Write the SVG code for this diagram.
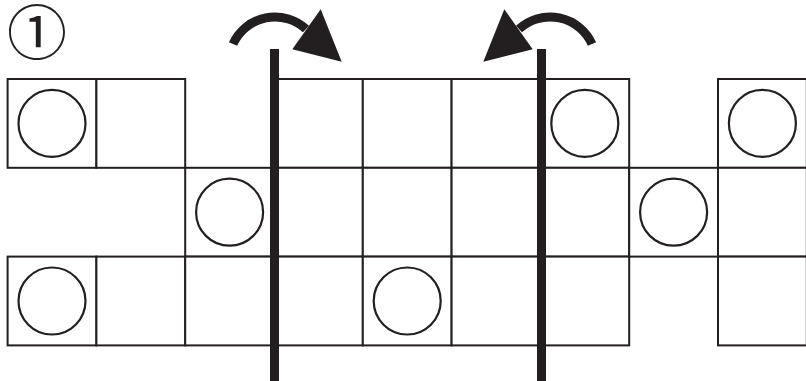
<svg xmlns="http://www.w3.org/2000/svg" width="806" height="381" viewBox="0 0 806 381">
<style>
.cell{fill:#fff;stroke:#231f20;stroke-width:2}
.dot{fill:none;stroke:#231f20;stroke-width:2.2}
.bar{fill:#231f20}
.arc{fill:none;stroke:#231f20;stroke-width:9}
.head{fill:#231f20}
.num{font-family:"Noto Sans CJK JP","DejaVu Sans",sans-serif;font-size:60px;fill:#231f20}
</style>
<defs>
<g id="arrow">
<path class="arc" d="M 233 44 A 46 46 0 0 1 306 29"/>
<polygon class="head" points="320.7,9.3 341.7,61.7 292.3,49.3"/>
</g>
</defs>
<rect width="806" height="381" fill="#fff"/>
<text class="num" x="37" y="55" text-anchor="middle">①</text>
<g id="grid">
<g id="r0">
<rect class="cell" x="7.6" y="79" width="88.8" height="88.8"/>
<rect class="cell" x="96.4" y="79" width="88.8" height="88.8"/>
<rect class="cell" x="274" y="79" width="88.8" height="88.8"/>
<rect class="cell" x="362.8" y="79" width="88.8" height="88.8"/>
<rect class="cell" x="451.6" y="79" width="88.8" height="88.8"/>
<rect class="cell" x="540.4" y="79" width="88.8" height="88.8"/>
<rect class="cell" x="718" y="79" width="88.8" height="88.8"/>
</g>
<g id="r1">
<rect class="cell" x="185.2" y="167.8" width="88.8" height="88.8"/>
<rect class="cell" x="274" y="167.8" width="88.8" height="88.8"/>
<rect class="cell" x="362.8" y="167.8" width="88.8" height="88.8"/>
<rect class="cell" x="451.6" y="167.8" width="88.8" height="88.8"/>
<rect class="cell" x="540.4" y="167.8" width="88.8" height="88.8"/>
<rect class="cell" x="629.2" y="167.8" width="88.8" height="88.8"/>
<rect class="cell" x="718" y="167.8" width="88.8" height="88.8"/>
</g>
<g id="r2">
<rect class="cell" x="7.6" y="256.6" width="88.8" height="88.8"/>
<rect class="cell" x="96.4" y="256.6" width="88.8" height="88.8"/>
<rect class="cell" x="185.2" y="256.6" width="88.8" height="88.8"/>
<rect class="cell" x="274" y="256.6" width="88.8" height="88.8"/>
<rect class="cell" x="362.8" y="256.6" width="88.8" height="88.8"/>
<rect class="cell" x="451.6" y="256.6" width="88.8" height="88.8"/>
<rect class="cell" x="540.4" y="256.6" width="88.8" height="88.8"/>
<rect class="cell" x="718" y="256.6" width="88.8" height="88.8"/>
</g>
</g>
<g id="circles">
<circle class="dot" cx="52" cy="123.4" r="33.5"/>
<circle class="dot" cx="584.8" cy="123.4" r="33.5"/>
<circle class="dot" cx="762.4" cy="123.4" r="33.5"/>
<circle class="dot" cx="229.6" cy="212.2" r="33.5"/>
<circle class="dot" cx="673.6" cy="212.2" r="33.5"/>
<circle class="dot" cx="52" cy="301" r="33.5"/>
<circle class="dot" cx="407.2" cy="301" r="33.5"/>
</g>
<g id="bars">
<rect class="bar" x="270" y="49" width="9" height="332"/>
<rect class="bar" x="537" y="49" width="9" height="332"/>
</g>
<g id="arrows">
<use href="#arrow"/>
<use href="#arrow" transform="translate(825,0) scale(-1,1)"/>
</g>
</svg>
